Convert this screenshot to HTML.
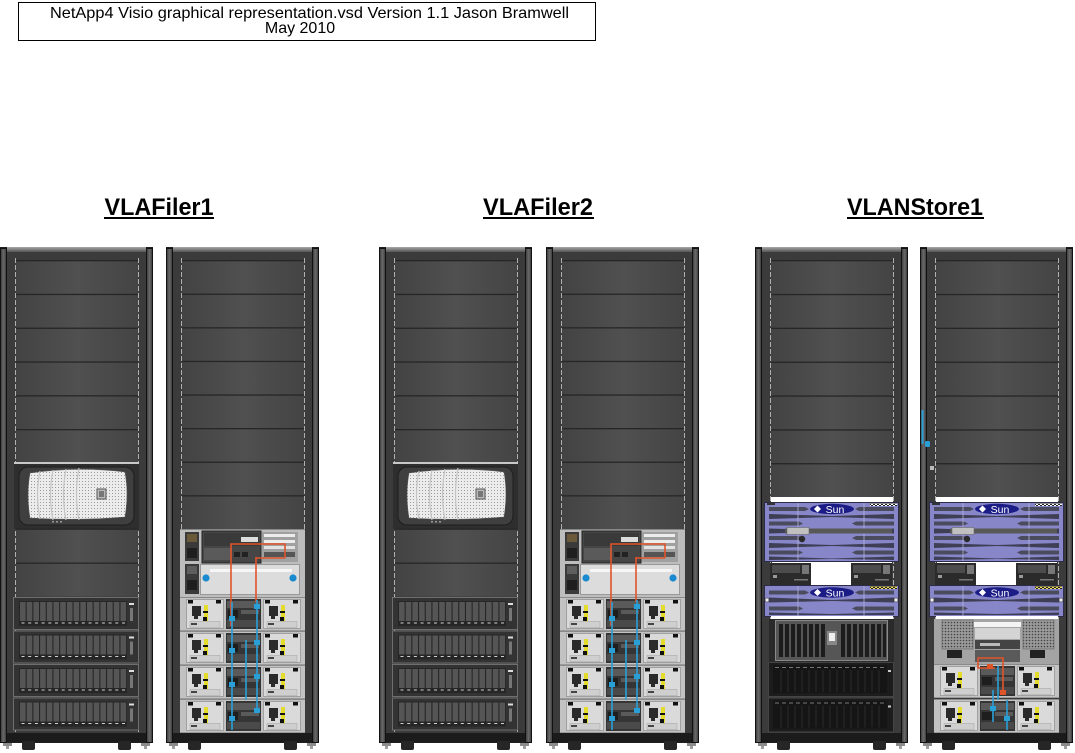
<!DOCTYPE html>
<html><head><meta charset="utf-8"><title>NetApp4 Visio graphical representation</title>
<style>html,body{margin:0;padding:0;background:#fff;width:1075px;height:753px;overflow:hidden}svg{display:block}</style>
</head><body>
<svg xmlns="http://www.w3.org/2000/svg" width="1075" height="753" viewBox="0 0 1075 753">
<defs>
<linearGradient id="pg" x1="0" y1="0" x2="1" y2="0"><stop offset="0" stop-color="#434343"/><stop offset=".5" stop-color="#505050"/><stop offset="1" stop-color="#444"/></linearGradient>
<linearGradient id="tb" x1="0" y1="0" x2="0" y2="1"><stop offset="0" stop-color="#a8a8a8"/><stop offset="1" stop-color="#555"/></linearGradient>
<linearGradient id="post" x1="0" y1="0" x2="1" y2="0"><stop offset="0" stop-color="#383838"/><stop offset=".5" stop-color="#6a6a6a"/><stop offset="1" stop-color="#383838"/></linearGradient>
<pattern id="dots" width="3" height="3" patternUnits="userSpaceOnUse"><rect width="3" height="3" fill="#ececec"/><rect x="1" y="1" width="1" height="1" fill="#9a9a9a"/></pattern>
<pattern id="hatch" width="4" height="3" patternUnits="userSpaceOnUse"><rect width="4" height="3" fill="#fff"/><rect width="2" height="1.5" fill="#222"/><rect x="2" y="1.5" width="2" height="1.5" fill="#222"/></pattern>
<pattern id="hatchy" width="4" height="3" patternUnits="userSpaceOnUse"><rect width="4" height="3" fill="#f0e060"/><rect width="2" height="1.5" fill="#222"/><rect x="2" y="1.5" width="2" height="1.5" fill="#222"/></pattern>
<pattern id="vent" width="3" height="3" patternUnits="userSpaceOnUse"><rect width="3" height="3" fill="#9a9a9a"/><circle cx="1.5" cy="1.5" r="0.8" fill="#444"/></pattern>

<g id="frame">
 <rect x="0" y="247" width="153" height="496" fill="#1e1e1e"/>
 <rect x="0.5" y="248.5" width="6" height="494" fill="url(#post)" stroke="#111"/>
 <rect x="146.5" y="248.5" width="6" height="494" fill="url(#post)" stroke="#111"/>
 <rect x="7" y="247" width="139" height="5" fill="url(#tb)"/>
 <rect x="7" y="252" width="139" height="481" fill="#3b3b3b"/>
 <rect x="7" y="733" width="139" height="9" fill="#1b1b1b"/>
 <line x1="15.5" y1="258" x2="15.5" y2="733" stroke="#b0b0b0" stroke-dasharray="5 2"/>
 <line x1="138.5" y1="258" x2="138.5" y2="733" stroke="#b0b0b0" stroke-dasharray="5 2"/>
 <rect x="22" y="741" width="13" height="9" rx="2" fill="#262626"/>
 <rect x="118" y="741" width="13" height="9" rx="2" fill="#262626"/>
 <rect x="3" y="743" width="9" height="3" fill="#8c8c8c"/><rect x="6" y="746" width="3" height="3" fill="#a0a0a0"/>
 <rect x="141" y="743" width="9" height="3" fill="#8c8c8c"/><rect x="144" y="746" width="3" height="3" fill="#a0a0a0"/>
</g>

<g id="pan"><rect x="16" y="0" width="122" height="34" fill="url(#pg)"/><rect x="16" y="0" width="122" height="1.3" fill="#262626"/></g>

<g id="filer">
 <rect x="14" y="462" width="125" height="67" fill="#2e2e2e"/>
 <rect x="14" y="462" width="125" height="2" fill="#c8c8c8"/>
 <rect x="19" y="467" width="115" height="58" rx="9" fill="#3f3f3f" stroke="#1e1e1e"/>
 <path d="M30,473 Q78,466 125,472 Q129,494 125,517 Q78,521 30,518 Q26,495 30,473Z" fill="url(#dots)" stroke="#555" stroke-width="0.6"/>
 <path d="M40,471 Q35,495 40,519 M53,470 Q48,495 53,520 M66,469 Q61,495 66,520 M79,468 Q74,495 79,520" fill="none" stroke="#c4c4c4" stroke-width="1.2"/>
 <rect x="97" y="489" width="9" height="10" fill="#bbb" stroke="#555"/>
 <rect x="99" y="491" width="5" height="6" fill="#777"/>
 <rect x="52" y="521" width="2" height="1.5" fill="#999"/><rect x="56" y="521" width="2" height="1.5" fill="#999"/><rect x="60" y="521" width="2" height="1.5" fill="#999"/>
</g>

<g id="dsf">
 <rect x="13.5" y="0.5" width="125" height="32" fill="#333" stroke="#6e6e6e"/>
 <rect x="19" y="4" width="108" height="25" fill="#262626"/>
 <g fill="#555">
  <rect x="20" y="5" width="5.6" height="19"/><rect x="26.7" y="5" width="5.6" height="19"/><rect x="33.4" y="5" width="5.6" height="19"/><rect x="40.1" y="5" width="5.6" height="19"/>
  <rect x="46.8" y="5" width="5.6" height="19"/><rect x="53.5" y="5" width="5.6" height="19"/><rect x="60.2" y="5" width="5.6" height="19"/><rect x="66.9" y="5" width="5.6" height="19"/>
  <rect x="73.6" y="5" width="5.6" height="19"/><rect x="80.3" y="5" width="5.6" height="19"/><rect x="87" y="5" width="5.6" height="19"/><rect x="93.7" y="5" width="5.6" height="19"/>
  <rect x="100.4" y="5" width="5.6" height="19"/><rect x="107.1" y="5" width="5.6" height="19"/><rect x="113.8" y="5" width="5.6" height="19"/><rect x="120.5" y="5" width="5.6" height="19"/>
 </g>
 <g fill="#d0d0d0">
  <rect x="21.5" y="25.5" width="3" height="1"/><rect x="28.2" y="25.5" width="3" height="1"/><rect x="34.9" y="25.5" width="3" height="1"/><rect x="41.6" y="25.5" width="3" height="1"/>
  <rect x="48.3" y="25.5" width="3" height="1"/><rect x="55" y="25.5" width="3" height="1"/><rect x="61.7" y="25.5" width="3" height="1"/><rect x="68.4" y="25.5" width="3" height="1"/>
  <rect x="75.1" y="25.5" width="3" height="1"/><rect x="81.8" y="25.5" width="3" height="1"/><rect x="88.5" y="25.5" width="3" height="1"/><rect x="95.2" y="25.5" width="3" height="1"/>
  <rect x="101.9" y="25.5" width="3" height="1"/><rect x="108.6" y="25.5" width="3" height="1"/><rect x="115.3" y="25.5" width="3" height="1"/><rect x="122" y="25.5" width="3" height="1"/>
 </g>
 <rect x="129" y="6" width="5" height="2" fill="#ddd"/><rect x="130" y="11" width="3" height="13" fill="#777"/>
</g>

<g id="dsk">
 <rect x="13.5" y="0.5" width="125" height="34" fill="#1c1c1c" stroke="#444"/>
 <rect x="18" y="3" width="114" height="28" fill="#151515"/>
 <g fill="#777">
  <rect x="20" y="5" width="4" height="1"/><rect x="27" y="5" width="4" height="1"/><rect x="34" y="5" width="4" height="1"/><rect x="41" y="5" width="4" height="1"/><rect x="48" y="5" width="4" height="1"/><rect x="55" y="5" width="4" height="1"/><rect x="62" y="5" width="4" height="1"/><rect x="69" y="5" width="4" height="1"/>
  <rect x="76" y="5" width="4" height="1"/><rect x="83" y="5" width="4" height="1"/><rect x="90" y="5" width="4" height="1"/><rect x="97" y="5" width="4" height="1"/><rect x="104" y="5" width="4" height="1"/><rect x="111" y="5" width="4" height="1"/><rect x="118" y="5" width="4" height="1"/><rect x="125" y="5" width="4" height="1"/>
 </g>
 <g stroke="#2c2c2c" stroke-width="1">
  <path d="M26,8V30 M33,8V30 M40,8V30 M47,8V30 M54,8V30 M61,8V30 M68,8V30 M75,8V30 M82,8V30 M89,8V30 M96,8V30 M103,8V30 M110,8V30 M117,8V30 M124,8V30"/>
 </g>
 <rect x="133" y="8" width="3" height="2" fill="#ccc"/>
</g>

<g id="psu">
 <rect x="0.5" y="2.5" width="37" height="29" fill="#dadada" stroke="#a0a0a0"/>
 <rect x="2" y="3" width="5" height="3.5" fill="#111"/>
 <rect x="30" y="3" width="5" height="3.5" fill="#111"/>
 <rect x="6" y="9" width="9" height="10" fill="#2a2a2a"/>
 <rect x="8" y="19" width="4" height="3" fill="#2a2a2a"/>
 <rect x="18" y="8" width="4" height="17" fill="#e4dc2c"/>
 <rect x="17" y="14" width="5" height="2" fill="#111"/><rect x="17" y="20" width="4" height="4" fill="#111"/>
 <rect x="4" y="24.5" width="30" height="6" fill="#cfcfcf" stroke="#aaa" stroke-width=".6"/>
 <rect x="5" y="26" width="6" height="2" fill="#444"/>
</g>

<g id="dsb">
 <rect x="14" y="0" width="125" height="34" fill="#c2c2c2"/>
 <rect x="14" y="0" width="125" height="1" fill="#8a8a8a"/>
 <rect x="14" y="33" width="125" height="1" fill="#9a9a9a"/>
 <use href="#psu" x="20"/>
 <use href="#psu" x="97"/>
 <rect x="60" y="2" width="35" height="30" fill="#353535"/>
 <rect x="61" y="4" width="33" height="7" fill="#5a5a5a"/>
 <rect x="62" y="13" width="10" height="8" fill="#1e1e1e"/>
 <rect x="75" y="13" width="18" height="4" fill="#5a5a5a"/>
 <rect x="61" y="23" width="33" height="7" fill="#4a4a4a"/>
</g>

<g id="bhead">
 <rect x="14" y="529" width="125" height="68" fill="#bdbdbd"/>
 <rect x="14" y="529" width="125" height="1" fill="#888"/>
 <rect x="19" y="532" width="14" height="29" fill="#3a3a3a"/>
 <rect x="21" y="534" width="10" height="8" fill="#6a5a3a"/>
 <rect x="21" y="548" width="10" height="10" fill="#1e1e1e"/>
 <rect x="19" y="564" width="14" height="30" fill="#3a3a3a"/>
 <rect x="21" y="566" width="10" height="8" fill="#5e5e5e"/>
 <rect x="21" y="580" width="10" height="10" fill="#1e1e1e"/>
 <rect x="36" y="531" width="59" height="32" fill="#464646" stroke="#222"/>
 <rect x="38" y="533" width="55" height="13" fill="#3a3a3a"/>
 <rect x="75" y="537" width="17" height="5" fill="#ddd"/>
 <rect x="38" y="548" width="28" height="12" fill="#5a5a5a"/>
 <rect x="68" y="552" width="6" height="5" fill="#222"/><rect x="76" y="552" width="6" height="5" fill="#222"/>
 <rect x="96" y="532" width="36" height="30" fill="#a0a0a0"/>
 <rect x="98" y="534" width="31" height="3" fill="#ececec"/>
 <rect x="98" y="540" width="31" height="3" fill="#ececec"/>
 <rect x="98" y="546" width="31" height="3" fill="#e2e2e2"/>
 <rect x="98" y="552" width="31" height="5" fill="#555"/>
 <rect x="34.5" y="564.5" width="99" height="30" fill="#dcdcdc" stroke="#999"/>
 <rect x="44" y="569" width="82" height="3" fill="#f6f6f6"/>
 <circle cx="40" cy="578" r="3.6" fill="#1a8ad0"/>
 <circle cx="127" cy="578" r="3.6" fill="#1a8ad0"/>
</g>

<g id="sun1">
 <rect x="9.5" y="0.5" width="134" height="59" fill="#8686c9" stroke="#2c2c48"/>
 <rect x="115" y="1" width="27" height="3" fill="url(#hatch)"/>
 <rect x="12" y="1" width="8" height="2" fill="#333"/>
 <path fill="#4b4b5e" d="M14,5H50L54,7L50,9H14Z M139,5H104L100,7L104,9H139Z
  M14,19.5H44L48,21.5L44,23.5H14Z M139,19.5H101L97,21.5L101,23.5H139Z
  M14,34H44L48,36L44,38H14Z M139,34H101L97,36L101,38H139Z
  M14,48.5H44L48,50.5L44,52.5H14Z M139,48.5H101L97,50.5L101,52.5H139Z"/>
 <path fill="#3e3e55" d="M14,12 L77,14 L139,12 L139,17 L77,15 L14,17Z M14,26.5 L77,28.5 L139,26.5 L139,31.5 L77,29.5 L14,31.5Z M14,41 L77,43 L139,41 L139,46 L77,44 L14,46Z M14,54.5 L77,56.5 L139,54.5 L139,58 L77,57 L14,58Z"/>
 <path d="M43,1V59 M109,1V59" stroke="#b4b4dc" stroke-width="0.8"/>
 <rect x="30" y="26.5" width="107" height="5" fill="#585858"/>
 <rect x="32" y="25.5" width="22" height="7" fill="#c0c0c0" stroke="#666" stroke-width=".6"/>
 <circle cx="47" cy="37" r="3.2" fill="#2a2a2a"/>
 <ellipse cx="77" cy="7" rx="22" ry="5.2" fill="#1c1c86"/>
 <path d="M59,7 l3.5,-3.5 l3.5,3.5 l-3.5,3.5z" fill="#fff"/>
 <text x="80" y="10.8" font-family="'Liberation Sans', Arial, sans-serif" font-size="10.5" fill="#fff" text-anchor="middle">Sun</text>
</g>

<g id="sun2">
 <rect x="9.5" y="0.5" width="134" height="31" fill="#8686c9" stroke="#2c2c48"/>
 <rect x="115" y="1" width="27" height="3" fill="url(#hatchy)"/>
 <path fill="#4b4b5e" d="M14,5.5H50L54,7.5L50,9.5H14Z M139,5.5H104L100,7.5L104,9.5H139Z M14,21.5H44L48,23.5L44,25.5H14Z M139,21.5H101L97,23.5L101,25.5H139Z"/>
 <path fill="#3e3e55" d="M14,12.5 L77,15 L139,12.5 L139,17.5 L77,16 L14,17.5Z M14,27.5 L77,29 L139,27.5 L139,30 L14,30Z"/>
 <path d="M43,1V31 M109,1V31" stroke="#b4b4dc" stroke-width="0.8"/>
 <circle cx="12" cy="15" r="2" fill="#eee" stroke="#333" stroke-width=".6"/>
 <circle cx="141" cy="15" r="2" fill="#eee" stroke="#333" stroke-width=".6"/>
 <ellipse cx="77" cy="7.5" rx="22" ry="5.2" fill="#1c1c86"/>
 <path d="M59,7.5 l3.5,-3.5 l3.5,3.5 l-3.5,3.5z" fill="#fff"/>
 <text x="80" y="11.3" font-family="'Liberation Sans', Arial, sans-serif" font-size="10.5" fill="#fff" text-anchor="middle">Sun</text>
</g>

<g id="tape">
 <rect x="0" y="0" width="41" height="22" fill="#2b2b2b"/>
 <rect x="2" y="2" width="28" height="8" fill="#4c4c4c"/>
 <rect x="32" y="2" width="7" height="9" fill="#777"/>
 <rect x="3" y="12" width="4" height="3" fill="#999"/>
 <rect x="24" y="16" width="14" height="1.5" fill="#777"/>
</g>

<g id="frontRack">
 <use href="#frame"/>
 <use href="#pan" y="260"/><use href="#pan" y="293.8"/><use href="#pan" y="327.6"/><use href="#pan" y="361.4"/><use href="#pan" y="395.2"/><use href="#pan" y="429"/>
 <use href="#filer"/>
 <use href="#pan" y="528.5"/><use href="#pan" y="562.5"/>
 <use href="#dsf" y="597"/><use href="#dsf" y="630.5"/><use href="#dsf" y="664"/><use href="#dsf" y="697.5"/>
</g>

<g id="backRack">
 <use href="#frame"/>
 <use href="#pan" y="260"/><use href="#pan" y="293.6"/><use href="#pan" y="327.2"/><use href="#pan" y="360.8"/><use href="#pan" y="394.4"/><use href="#pan" y="428"/><use href="#pan" y="461.6"/><use href="#pan" y="495.2"/>
 <use href="#bhead"/>
 <use href="#dsb" y="597"/><use href="#dsb" y="631"/><use href="#dsb" y="665"/><use href="#dsb" y="699"/>
 <g fill="none" stroke-width="1.6">
  <path d="M119,558V544H65V626 M90,557V602 M90,558H119" stroke="#e0542a"/>
  <path d="M66,602V730 M91,600V712 M80,640V700" stroke="#2a9fd6"/>
 </g>
 <g fill="#2a9fd6">
  <rect x="63" y="616" width="6" height="5"/><rect x="88" y="604" width="6" height="5"/><rect x="63" y="648" width="6" height="5"/><rect x="88" y="640" width="6" height="5"/>
  <rect x="63" y="682" width="6" height="5"/><rect x="88" y="674" width="6" height="5"/><rect x="63" y="716" width="6" height="5"/><rect x="88" y="708" width="6" height="5"/>
 </g>
</g>

<g id="sunTop">
 <use href="#frame"/>
 <use href="#pan" y="260"/><use href="#pan" y="293.9"/><use href="#pan" y="327.7"/><use href="#pan" y="361.6"/><use href="#pan" y="395.4"/><use href="#pan" y="429.3"/><use href="#pan" y="463.1"/>
 <rect x="16" y="497" width="122" height="5" fill="#fff"/>
 <use href="#sun1" y="502"/>
 <rect x="17" y="562" width="120" height="24" fill="#fff"/>
 <use href="#tape" x="15" y="563"/>
 <use href="#tape" x="96" y="563"/>
 <use href="#sun2" y="585"/>
 <rect x="16" y="616" width="122" height="3" fill="#fff"/>
</g>
</defs>

<rect width="1075" height="753" fill="#fff"/>

<rect x="18.5" y="2.5" width="577" height="38" fill="#fff" stroke="#000"/>
<text x="309.5" y="18" font-family="'Liberation Sans', Arial, sans-serif" font-size="16" text-anchor="middle" textLength="519" lengthAdjust="spacingAndGlyphs">NetApp4 Visio graphical representation.vsd Version 1.1 Jason Bramwell</text>
<text x="300" y="33" font-family="'Liberation Sans', Arial, sans-serif" font-size="16" text-anchor="middle">May 2010</text>

<g font-family="'Liberation Sans', Arial, sans-serif" font-weight="bold" font-size="24" text-anchor="middle" fill="#000">
 <text x="159" y="215" textLength="109" lengthAdjust="spacingAndGlyphs">VLAFiler1</text>
 <text x="538" y="215" textLength="110" lengthAdjust="spacingAndGlyphs">VLAFiler2</text>
 <text x="915" y="215" textLength="136" lengthAdjust="spacingAndGlyphs">VLANStore1</text>
</g>
<rect x="104" y="217" width="110" height="2" fill="#000"/>
<rect x="483" y="217" width="111" height="2" fill="#000"/>
<rect x="847" y="217" width="137" height="2" fill="#000"/>

<use href="#frontRack" x="0"/>
<use href="#backRack" x="166"/>
<use href="#frontRack" x="379"/>
<use href="#backRack" x="546"/>

<!-- VLANStore1 rack A -->
<g transform="translate(755,0)">
 <use href="#sunTop"/>
 <rect x="14" y="619" width="125" height="43" fill="#2a2a2a"/>
 <rect x="20.5" y="620.5" width="112" height="40" fill="#565656" stroke="#8a8a8a"/>
 <g fill="#1c1c1c">
  <rect x="24" y="624" width="4" height="33"/><rect x="30" y="624" width="4" height="33"/><rect x="36" y="624" width="4" height="33"/><rect x="42" y="624" width="4" height="33"/><rect x="48" y="624" width="4" height="33"/><rect x="54" y="624" width="4" height="33"/><rect x="60" y="624" width="4" height="33"/><rect x="66" y="624" width="4" height="33"/>
  <rect x="86" y="624" width="4" height="33"/><rect x="92" y="624" width="4" height="33"/><rect x="98" y="624" width="4" height="33"/><rect x="104" y="624" width="4" height="33"/><rect x="110" y="624" width="4" height="33"/><rect x="116" y="624" width="4" height="33"/><rect x="122" y="624" width="4" height="33"/><rect x="128" y="624" width="3" height="33"/>
 </g>
 <rect x="72" y="631" width="10" height="14" fill="#888"/>
 <rect x="74" y="633" width="6" height="8" fill="#eee"/>
 <use href="#dsk" y="662"/>
 <use href="#dsk" y="697.5"/>
</g>

<!-- VLANStore1 rack B -->
<g transform="translate(920,0)">
 <use href="#sunTop"/>
 <rect x="14" y="619" width="125" height="45" fill="#a4a4a4"/>
 <rect x="22" y="620" width="31" height="29" fill="url(#vent)" stroke="#666" stroke-width=".6"/>
 <rect x="27" y="650" width="15" height="8" fill="#222"/>
 <rect x="103" y="620" width="31" height="29" fill="url(#vent)" stroke="#666" stroke-width=".6"/>
 <rect x="110" y="650" width="15" height="8" fill="#222"/>
 <rect x="54" y="622" width="47" height="5" fill="#f4f4f4"/>
 <rect x="55" y="628" width="45" height="11" fill="#d4d4d4"/>
 <rect x="55" y="640" width="45" height="9" fill="#444"/>
 <rect x="60" y="643" width="20" height="3" fill="#bbb"/>
 <rect x="55" y="650" width="45" height="12" fill="#5a5a5a"/>
 <use href="#dsb" y="664"/>
 <use href="#dsb" y="699"/>
 <g fill="none" stroke-width="1.6">
  <path d="M83,693V658H58V668H75" stroke="#e0542a"/>
  <path d="M78,666V700 M73,690V722 M87,700V730" stroke="#2a9fd6"/>
 </g>
 <rect x="67" y="664" width="6" height="5" fill="#e0542a"/>
 <rect x="80" y="690" width="6" height="5" fill="#e0542a"/>
 <rect x="70" y="706" width="6" height="5" fill="#2a9fd6"/>
 <rect x="84" y="716" width="6" height="5" fill="#2a9fd6"/>
 <path d="M2.5,410V444" stroke="#2a9fd6" stroke-width="2" fill="none"/>
 <rect x="5" y="441" width="5" height="6" rx="1.5" fill="#2a9fd6"/>
 <rect x="10" y="466" width="4" height="4" fill="#bbb"/>
</g>
</svg>
</body></html>
